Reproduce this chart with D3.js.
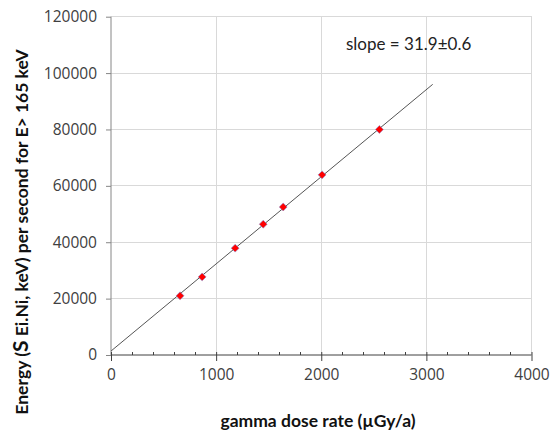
<!DOCTYPE html>
<html><head><meta charset="utf-8">
<script src="https://cdn.jsdelivr.net/npm/d3@7"></script>
<style>
html,body{margin:0;padding:0;background:#fff;}
svg{display:block;font-family:Lato,"Open Sans",sans-serif;}
</style></head>
<body><svg id="chart" width="554" height="430"></svg>
<script>
// data
const doseRate = [657, 867, 1181, 1448, 1638, 2008, 2553];
const energy = [21000, 27700, 37900, 46400, 52500, 63900, 80000];
const fitX = [0, 3060];
const fitY = [1400, 96000];
const xTicks = [0, 1000, 2000, 3000, 4000];
const yTicks = [0, 20000, 40000, 60000, 80000, 100000, 120000];
const xTitle = "gamma dose rate (µGy/a)";
const slopeLabel = "slope = 31.9±0.6";

const svg = d3.select("#chart");
const x = d3.scaleLinear().domain([0, 4000]).range([111, 531.5]);
const y = d3.scaleLinear().domain([0, 120000]).range([355, 16.7]);

// gridlines
svg.append("g").selectAll("line.v").data(xTicks.slice(1)).join("line")
  .attr("x1", d => x(d)).attr("x2", d => x(d)).attr("y1", y(0)).attr("y2", y(120000))
  .attr("stroke", "#d9d9d9").attr("stroke-width", 1).attr("shape-rendering", "crispEdges");
svg.append("g").selectAll("line.h").data(yTicks.slice(1)).join("line")
  .attr("x1", x(0)).attr("x2", x(4000)).attr("y1", d => y(d)).attr("y2", d => y(d))
  .attr("stroke", "#d9d9d9").attr("stroke-width", 1).attr("shape-rendering", "crispEdges");

// y axis
const yAxis = svg.append("g").attr("transform", `translate(${x(0)},0)`)
  .call(d3.axisLeft(y).tickValues(yTicks).tickSize(5).tickPadding(9).tickFormat(d3.format("d")));
yAxis.select(".domain").attr("stroke", "#868686").attr("d", `M0,${y(0)}V${y(120000)}`);
yAxis.selectAll(".tick line").attr("stroke", "#868686");
yAxis.selectAll("text").attr("font-size", 15.5).attr("fill", "#404040").attr("font-family", "Open Sans");

// x minor ticks
const minor = d3.range(200, 4000, 200).filter(v => v % 1000 !== 0);
svg.append("g").selectAll("line").data(minor).join("line")
  .attr("x1", d => x(d)).attr("x2", d => x(d)).attr("y1", y(0) - 3).attr("y2", y(0))
  .attr("stroke", "#404040").attr("shape-rendering", "crispEdges");

// x axis
const xAxis = svg.append("g").attr("transform", `translate(0,${y(0)})`)
  .call(d3.axisBottom(x).tickValues(xTicks).tickSize(6).tickPadding(8).tickFormat(d3.format("d")));
xAxis.select(".domain").attr("stroke", "#404040").attr("d", `M${x(0)},0H${x(4000)}`);
xAxis.selectAll(".tick line").attr("stroke", "#404040").attr("y1", -3);
xAxis.selectAll("text").attr("font-size", 15.5).attr("fill", "#404040").attr("font-family", "Open Sans");

// fit line
svg.append("line")
  .attr("x1", x(fitX[0])).attr("y1", y(fitY[0]))
  .attr("x2", x(fitX[1])).attr("y2", y(fitY[1]))
  .attr("stroke", "#555").attr("stroke-width", 1);

// markers
svg.append("g").selectAll("path").data(doseRate.map((d, i) => [d, energy[i]])).join("path")
  .attr("d", d3.symbol(d3.symbolDiamond2, 40))
  .attr("transform", d => `translate(${x(d[0])},${y(d[1])})`)
  .attr("fill", "#ff0000").attr("stroke", "#8c8ccc").attr("stroke-width", 0.6);

// slope label
svg.append("text").attr("x", 346).attr("y", 49.5).attr("font-size", 17)
  .attr("fill", "#222").text(slopeLabel);

// x title
svg.append("text").attr("x", 318).attr("y", 426.5).attr("text-anchor", "middle")
  .attr("font-size", 17.5).attr("font-weight", "bold").attr("fill", "#111").text(xTitle);

// y title
const yt = svg.append("text").attr("transform", "translate(28,232) rotate(-90)")
  .attr("text-anchor", "middle").attr("font-size", 17.5).attr("font-weight", "bold").attr("fill", "#111");
yt.append("tspan").text("Energy (");
yt.append("tspan").attr("font-size", 21).text("S");
yt.append("tspan").text(" Ei.Ni, keV) per second for E> 165 keV");
</script>
</body></html>
